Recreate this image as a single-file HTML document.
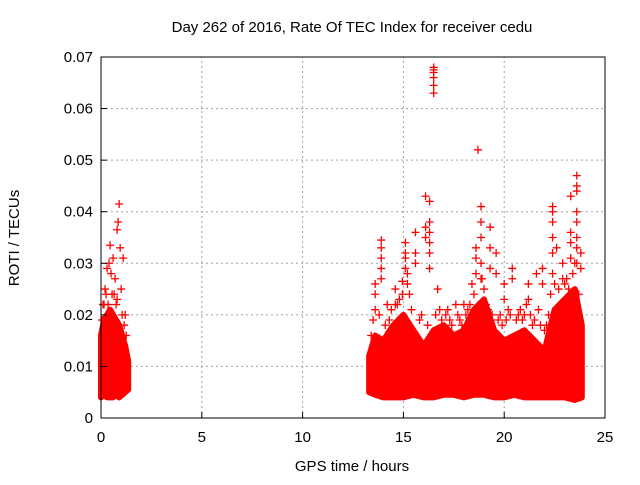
<!DOCTYPE html>
<html><head><meta charset="utf-8"><style>
body{margin:0;background:#fff}
svg text{font-family:"Liberation Sans",sans-serif;font-size:15px;fill:#000}
</style></head><body>
<svg id="c" width="640" height="480">
<text x="352" y="32" text-anchor="middle">Day 262 of 2016, Rate Of TEC Index for receiver cedu</text>
<text x="352" y="471" text-anchor="middle">GPS time / hours</text>
<text x="19" y="238" text-anchor="middle" transform="rotate(-90 19 238)">ROTI / TECUs</text>
<g id="grid"></g><g id="band"></g><g id="pts"></g><g id="axes"></g>
</svg>
<script>
const xTicks=[0,5,10,15,20,25];
const yTicks=[0,0.01,0.02,0.03,0.04,0.05,0.06,0.07];
const yTickLabels=["0","0.01","0.02","0.03","0.04","0.05","0.06","0.07"];
const band1T=[0,0.15,0.3,0.45,0.6,0.75,0.9,1.05,1.2,1.35];
const band1Lo=[0.004,0.0045,0.004,0.004,0.004,0.0045,0.004,0.0045,0.005,0.0055];
const band1Hi=[0.016,0.019,0.02,0.021,0.02,0.019,0.018,0.016,0.014,0.011];
const band2T=[13.3,13.6,14.0,14.5,15.0,15.5,16.0,16.5,17.0,17.5,18.0,18.5,19.0,19.5,20.0,20.5,21.0,21.5,22.0,22.5,23.0,23.5,23.85];
const band2Lo=[0.005,0.0045,0.004,0.004,0.004,0.0045,0.004,0.004,0.0045,0.0045,0.004,0.0045,0.0045,0.004,0.004,0.0045,0.004,0.004,0.004,0.004,0.004,0.0035,0.004];
const band2Hi=[0.012,0.016,0.015,0.018,0.02,0.017,0.014,0.017,0.018,0.016,0.017,0.021,0.023,0.017,0.015,0.016,0.017,0.015,0.013,0.021,0.023,0.025,0.018];
const ptT=[0.9,0.85,0.8,0.45,0.4,0.3,0.6,0.95,1.1,0.2,0.5,0.7,1.0,0.15,0.35,0.8,1.2,0.05,0.55,1.05,
13.6,13.6,13.6,13.9,13.9,13.9,13.9,13.9,14.2,14.6,14.6,14.95,14.95,15.1,15.1,15.1,15.1,15.6,15.6,15.6,15.2,15.2,
16.1,16.1,16.1,16.3,16.3,16.3,16.3,16.3,16.3,16.5,16.5,16.5,16.5,16.5,16.5,16.7,17.2,17.6,18.0,18.4,
18.6,18.6,18.6,18.7,18.85,18.85,18.85,18.85,18.85,19.3,19.3,19.3,19.6,19.6,20.0,20.0,20.4,20.4,21.2,21.2,21.6,21.9,21.9,
22.4,22.4,22.4,22.4,22.4,22.4,22.6,22.9,22.9,23.3,23.3,23.3,23.3,23.6,23.6,23.6,23.6,23.6,23.6,23.6,23.6,23.8,23.8,
13.4,13.5,13.8,14.1,14.3,14.4,14.7,14.8,15.3,15.4,15.8,15.9,16.2,16.6,16.8,16.9,17.1,17.3,17.4,17.7,17.8,17.9,18.1,18.2,18.3,18.5,18.9,19.0,19.1,19.2,19.4,19.7,19.8,19.9,20.1,20.2,20.3,20.6,20.7,20.8,20.9,21.0,21.1,21.3,21.4,21.5,21.7,21.8,22.0,22.1,22.2,22.3,22.5,22.7,22.8,23.0,23.1,23.2,23.4,23.5,23.7,
0.1,0.25,0.65,0.75,1.15,1.25];
const ptV=[0.0415,0.038,0.0365,0.0335,0.03,0.029,0.031,0.033,0.031,0.025,0.028,0.027,0.025,0.022,0.022,0.023,0.02,0.019,0.024,0.02,
0.026,0.024,0.021,0.0345,0.033,0.031,0.029,0.027,0.022,0.025,0.022,0.0265,0.024,0.034,0.032,0.031,0.029,0.036,0.032,0.03,0.028,0.026,
0.043,0.037,0.035,0.042,0.038,0.036,0.034,0.032,0.029,0.068,0.0675,0.067,0.066,0.0645,0.063,0.025,0.021,0.022,0.022,0.026,
0.033,0.031,0.028,0.052,0.041,0.038,0.035,0.03,0.027,0.037,0.033,0.029,0.032,0.028,0.026,0.023,0.029,0.027,0.026,0.023,0.028,0.029,0.026,
0.041,0.040,0.038,0.035,0.032,0.028,0.033,0.03,0.027,0.043,0.036,0.034,0.031,0.047,0.045,0.044,0.04,0.038,0.035,0.033,0.03,0.032,0.029,
0.016,0.019,0.02,0.018,0.019,0.021,0.022,0.023,0.024,0.021,0.019,0.02,0.018,0.02,0.021,0.019,0.02,0.019,0.018,0.02,0.019,0.018,0.02,0.021,0.022,0.024,0.027,0.025,0.022,0.021,0.02,0.019,0.02,0.018,0.019,0.021,0.02,0.019,0.02,0.021,0.019,0.02,0.022,0.02,0.018,0.019,0.021,0.018,0.017,0.018,0.02,0.024,0.026,0.025,0.022,0.026,0.027,0.025,0.028,0.03,0.024,
0.022,0.024,0.024,0.022,0.018,0.016];
const NS="http://www.w3.org/2000/svg";
const X0=101,X1=605,Y0=418,Y1=57;
function xs(t){return X0+(t-0)/25*(X1-X0);}
function ys(v){return Y0-v/0.07*(Y0-Y1);}
function mk(tag,attrs,parent){const e=document.createElementNS(NS,tag);for(const k in attrs)e.setAttribute(k,attrs[k]);parent.appendChild(e);return e;}
const grid=document.getElementById('grid'),axes=document.getElementById('axes'),band=document.getElementById('band'),pts=document.getElementById('pts');
xTicks.forEach((t,i)=>{
 if(i>0&&i<xTicks.length-1){const g=mk('line',{x1:xs(t),x2:xs(t),y1:Y0,y2:Y1,stroke:'#a0a0a0','stroke-dasharray':'2,3'},grid);
 
 }
 const tk=mk('line',{x1:xs(t),x2:xs(t),y1:Y0,y2:Y0-6,stroke:'#000'},axes);
 
 
 const tx=mk('text',{x:xs(t),y:Y0+24,'text-anchor':'middle'},axes);tx.textContent=t;
 
 
});
yTicks.forEach((v,i)=>{
 if(i>0&&i<yTicks.length-1){const g=mk('line',{x1:X0,x2:X1,y1:ys(v),y2:ys(v),stroke:'#a0a0a0','stroke-dasharray':'2,3'},grid);
 
 }
 const tk=mk('line',{x1:X0,x2:X0+6,y1:ys(v),y2:ys(v),stroke:'#000'},axes);
 
 
 const tx=mk('text',{x:X0-8,y:ys(v)+5,'text-anchor':'end'},axes);tx.textContent=yTickLabels[i];
 
 
});
const fr=mk('rect',{x:X0,y:Y1,width:X1-X0,height:Y0-Y1,fill:'none',stroke:'#000'},axes);


function drawBand(T,Lo,Hi,name){
 let d='M'+T.map((t,i)=>xs(t)+','+ys(Hi[i])).join('L');
 for(let i=T.length-1;i>=0;i--)d+='L'+xs(T[i])+','+ys(Lo[i]);
 const p=mk('path',{d:d+'Z',fill:'#ff0000',stroke:'#ff0000','stroke-width':6,'stroke-linejoin':'round'},band);
 
 
}
drawBand(band1T,band1Lo,band1Hi,'dense-points-early');
drawBand(band2T,band2Lo,band2Hi,'dense-points-late');
ptT.forEach((t,i)=>{
 const x=xs(t),y=ys(ptV[i]);
 const p=mk('path',{d:`M${x-4},${y}H${x+4}M${x},${y-4}V${y+4}`,stroke:'#ff0000','stroke-width':1.3},pts);
 
 
});
</script>
</body></html>
